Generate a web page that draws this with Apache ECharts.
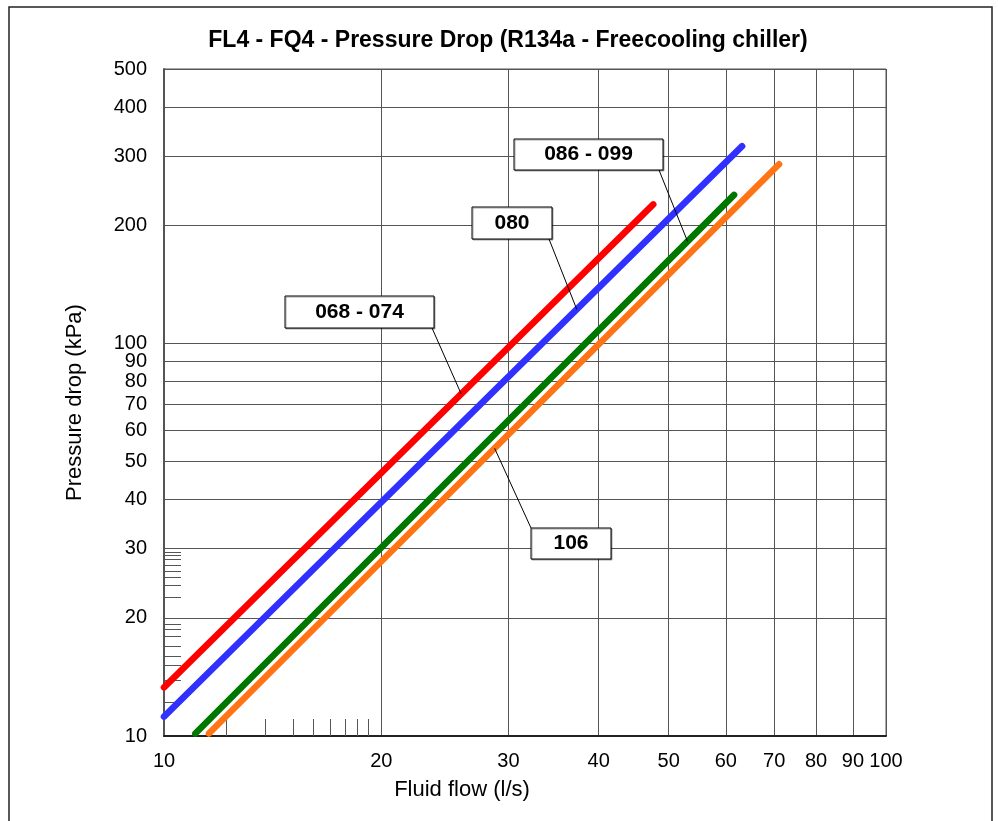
<!DOCTYPE html>
<html>
<head>
<meta charset="utf-8">
<title>FL4 - FQ4 - Pressure Drop</title>
<script src="https://cdn.jsdelivr.net/npm/echarts@6/dist/echarts.min.js"></script>
<style>
	html, body { margin: 0; padding: 0; background: #fff; }
	#chart { width: 998px; height: 821px; }
</style>
</head>
<body>
<div id="chart"></div>
<script>
// 流量 / 压降 数据 (log-log, each unit is a straight line)
var flow_068_074 = [10, 47.6];
var drop_068_074 = [13.3, 226];
var flow_080 = [10, 63.2];
var drop_080 = [11.2, 318];
var flow_086_099 = [11.05, 61.6];
var drop_086_099 = [10.15, 239];
var flow_106 = [11.54, 71.1];
var drop_106 = [10.15, 286];

// tick labels
var xTicks = [10, 20, 30, 40, 50, 60, 70, 80, 90, 100];
var yTicks = [10, 20, 30, 40, 50, 60, 70, 80, 90, 100, 200, 300, 400, 500];
// the odd little ticks along the bottom / left edges
var xMinorTicks = [12.2, 13.8, 15.1, 16.1, 17.0, 17.8, 18.5, 19.2];
var yMinorTicks = [12.2, 13.9, 15.1, 16.0, 16.9, 18.0, 18.7, 19.3, 22.5, 24.2, 25.4, 26.3, 27.2, 28.2, 28.8, 29.4];

// callouts: label text and the flow where the leader touches its line
var calloutText = ['068 - 074', '080', '086 - 099', '106'];
var calloutFlow = [25.8, 37.3, 53.1, 28.7];

var font = "'Liberation Sans', Arial, sans-serif";
var gridColor = '#555';

function pairs (xs, ys) {
	return xs.map(function (x, i) { return [x, ys[i]] })
}
// 在对数坐标中沿直线插值
function onLine (xs, ys, x) {
	var t = (Math.log(x) - Math.log(xs[0])) / (Math.log(xs[1]) - Math.log(xs[0]))
	return Math.exp(Math.log(ys[0]) + t * (Math.log(ys[1]) - Math.log(ys[0])))
}

var lines = [
	{ name: '068 - 074', xs: flow_068_074, ys: drop_068_074, color: '#ff0000' },
	{ name: '080', xs: flow_080, ys: drop_080, color: '#3030ff' },
	{ name: '086 - 099', xs: flow_086_099, ys: drop_086_099, color: '#007800' },
	{ name: '106', xs: flow_106, ys: drop_106, color: '#ff7414' }
]

var chart = echarts.init(document.getElementById('chart'))

var option = {
	animation: false,
	title: {
		text: 'FL4 - FQ4 - Pressure Drop (R134a - Freecooling chiller)',
		left: 508,
		top: 29,
		textAlign: 'center',
		padding: 0,
		textStyle: { fontFamily: font, fontSize: 23, fontWeight: 'bold', color: '#000' }
	},
	grid: {
		left: 164,
		top: 69,
		right: 112,
		bottom: 85,
		show: true,
		borderColor: gridColor,
		borderWidth: 1
	},
	xAxis: [{
		type: 'log',
		logBase: 10,
		min: 10,
		max: 100,
		name: 'Fluid flow (l/s)',
		nameLocation: 'middle',
		nameGap: 43,
		nameTextStyle: { fontFamily: font, fontSize: 22, color: '#000', padding: [0, 126, 0, 0] },
		axisLine: { show: true, lineStyle: { color: '#222', width: 2 } },
		axisTick: { show: false, customValues: xTicks },
		axisLabel: { customValues: xTicks, margin: 15, fontFamily: font, fontSize: 20, color: '#000' },
		splitLine: { show: true, lineStyle: { color: gridColor, width: 1 } }
	}, {
		type: 'log',
		logBase: 10,
		min: 10,
		max: 100,
		position: 'bottom',
		axisLine: { show: false },
		axisLabel: { show: false },
		splitLine: { show: false },
		axisTick: { show: true, inside: true, length: 17, customValues: xMinorTicks, lineStyle: { color: '#555', width: 1 } }
	}],
	yAxis: [{
		type: 'log',
		logBase: 10,
		min: 10,
		max: 500,
		name: 'Pressure drop (kPa)',
		nameLocation: 'middle',
		nameGap: 78,
		nameTextStyle: { fontFamily: font, fontSize: 22, color: '#000' },
		axisLine: { show: true, lineStyle: { color: '#555', width: 2 } },
		axisTick: { show: false, customValues: yTicks },
		axisLabel: { customValues: yTicks, margin: 17, fontFamily: font, fontSize: 20, color: '#000' },
		splitLine: { show: true, lineStyle: { color: gridColor, width: 1 } }
	}, {
		type: 'log',
		logBase: 10,
		min: 10,
		max: 500,
		position: 'left',
		axisLine: { show: false },
		axisLabel: { show: false },
		splitLine: { show: false },
		axisTick: { show: true, inside: true, length: 17, customValues: yMinorTicks, lineStyle: { color: '#555', width: 1 } }
	}],
	series: lines.map(function (l) {
		return {
			name: l.name,
			type: 'line',
			xAxisIndex: 0,
			yAxisIndex: 0,
			showSymbol: false,
			symbol: 'none',
			silent: true,
			z: 5,
			lineStyle: { color: l.color, width: 6.5, cap: 'round' },
			data: pairs(l.xs, l.ys)
		}
	})
}
chart.setOption(option)

// 标注框 (pixel layout) + leader lines to a point on each curve
var boxes = [
	{ x: 285, y: 296, w: 149, h: 32, from: [432, 328] },
	{ x: 472, y: 207, w: 80, h: 32, from: [549, 239] },
	{ x: 514, y: 139, w: 149, h: 31, from: [659, 170] },
	{ x: 531, y: 528, w: 80, h: 31, from: [531, 528] }
]
var graphics = [{
	type: 'rect',
	shape: { x: 9, y: 7, width: 983, height: 840 },
	style: { fill: 'none', stroke: '#222', lineWidth: 1.5 },
	silent: true,
	z: 0
}]
boxes.forEach(function (b, i) {
	var l = lines[i]
	var fx = calloutFlow[i]
	var p = chart.convertToPixel({ xAxisIndex: 0, yAxisIndex: 0 }, [fx, onLine(l.xs, l.ys, fx)])
	graphics.push({
		type: 'line',
		shape: { x1: b.from[0], y1: b.from[1], x2: p[0], y2: p[1] },
		style: { stroke: '#000', lineWidth: 1 },
		silent: true,
		z: 20
	})
	graphics.push({
		type: 'rect',
		shape: { x: b.x, y: b.y, width: b.w, height: b.h },
		style: { fill: '#fff', stroke: '#000', lineWidth: 1, shadowColor: 'rgba(0,0,0,0.35)', shadowOffsetX: 1, shadowOffsetY: 1 },
		silent: true,
		z: 21
	})
	graphics.push({
		type: 'text',
		x: b.x + b.w / 2,
		y: b.y + b.h / 2,
		style: {
			text: calloutText[i],
			font: 'bold 21px ' + font,
			fill: '#000',
			align: 'center',
			verticalAlign: 'middle'
		},
		silent: true,
		z: 22
	})
})
chart.setOption({ graphic: graphics })
window.addEventListener('resize', chart.resize)
</script>
</body>
</html>
